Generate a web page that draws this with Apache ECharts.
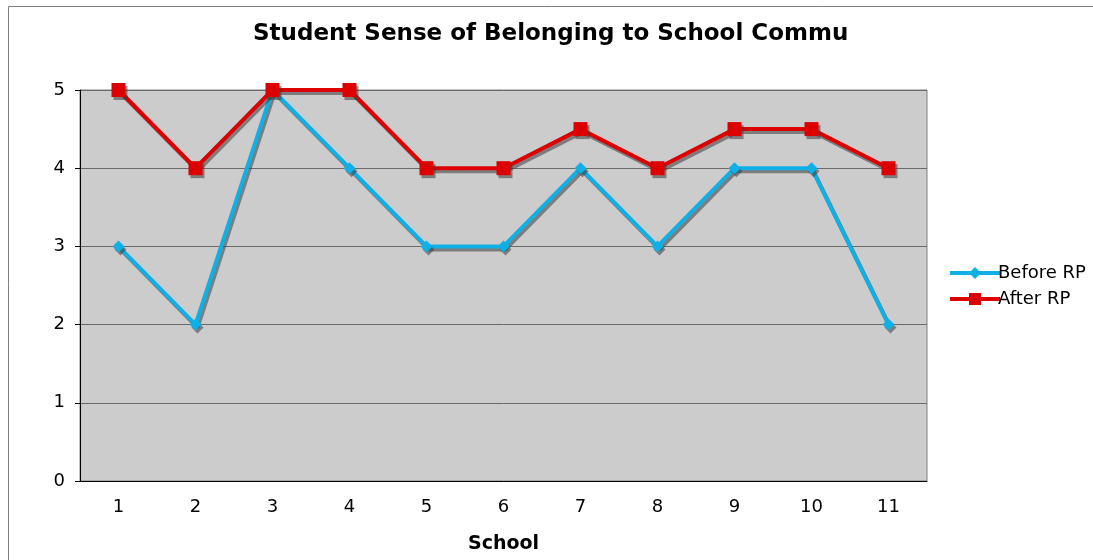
<!DOCTYPE html>
<html>
<head>
<meta charset="utf-8">
<script src="https://cdn.jsdelivr.net/npm/echarts@6/dist/echarts.min.js"></script>
<style>
  html, body { margin: 0; padding: 0; background: #fff; }
  #chart { width: 1093px; height: 560px; }
</style>
</head>
<body>
<div id="chart"></div>
<script>
// data
const schools = ['1', '2', '3', '4', '5', '6', '7', '8', '9', '10', '11'];
const beforeRP = [3, 2, 5, 4, 3, 3, 4, 3, 4, 4, 2];
const afterRP = [5, 4, 5, 5, 4, 4, 4.5, 4, 4.5, 4.5, 4];

const font = 'DejaVu Sans, Verdana, sans-serif';
const shadow = {
  shadowColor: 'rgba(60,60,60,0.55)',
  shadowOffsetX: 2,
  shadowOffsetY: 3,
  shadowBlur: 0
};

const myChart = echarts.init(document.getElementById('chart'));

const option = {
  animation: false,
  backgroundColor: '#fff',
  legend: {
    orient: 'vertical',
    left: 943,
    top: 259,
    itemWidth: 50,
    itemHeight: 15,
    itemGap: 8,
    lineStyle: { width: 4 },
    textStyle: { fontFamily: font, fontSize: 18, color: '#000', padding: [0, 0, 0, -7] },
    data: ['Before RP', 'After RP']
  },
  graphic: [
    {
      type: 'rect',
      shape: { x: 8.5, y: 6.5, width: 1200, height: 700 },
      style: { fill: 'none', stroke: '#7f7f7f', lineWidth: 1 },
      silent: true,
      z: -1
    },
    {
      // chart title, cut off at the right like in the original
      type: 'text',
      left: 253,
      top: 23,
      style: {
        text: 'Student Sense of Belonging to School Community',
        font: 'bold 23px ' + font,
        fill: '#000',
        width: 606,
        overflow: 'truncate',
        ellipsis: ''
      }
    }
  ],
  grid: {
    left: 80,
    right: 166,
    top: 90,
    bottom: 79,
    show: true,
    backgroundColor: '#cccccc',
    borderColor: '#808080',
    borderWidth: 1
  },
  xAxis: {
    type: 'category',
    data: schools,
    boundaryGap: true,
    name: 'School',
    nameLocation: 'middle',
    nameGap: 54,
    nameTextStyle: { fontFamily: font, fontWeight: 'bold', fontSize: 19, color: '#000' },
    axisLine: { lineStyle: { color: '#000', width: 1 } },
    axisTick: { alignWithLabel: false, length: 5, lineStyle: { color: '#000' } },
    axisLabel: { fontFamily: font, fontSize: 18, color: '#000', margin: 17 }
  },
  yAxis: {
    type: 'value',
    min: 0,
    max: 5,
    interval: 1,
    axisLine: { show: true, lineStyle: { color: '#000', width: 1 } },
    axisTick: { show: true, length: 5, lineStyle: { color: '#000' } },
    axisLabel: { fontFamily: font, fontSize: 18, color: '#000', margin: 15 },
    splitLine: { lineStyle: { color: '#6a6a6a', width: 1 } }
  },
  series: [
    {
      name: 'Before RP',
      type: 'line',
      data: beforeRP,
      symbol: 'diamond',
      symbolSize: 12,
      color: '#0fb0e6',
      lineStyle: Object.assign({ width: 4, color: '#0fb0e6' }, shadow),
      itemStyle: Object.assign({ color: '#0fb0e6' }, shadow)
    },
    {
      name: 'After RP',
      type: 'line',
      data: afterRP,
      symbol: 'rect',
      symbolSize: 14,
      color: '#dd0000',
      lineStyle: Object.assign({ width: 4, color: '#dd0000' }, shadow),
      itemStyle: Object.assign({ color: '#dd0000' }, shadow)
    }
  ]
};

myChart.setOption(option);
window.addEventListener('resize', myChart.resize);
</script>
</body>
</html>
